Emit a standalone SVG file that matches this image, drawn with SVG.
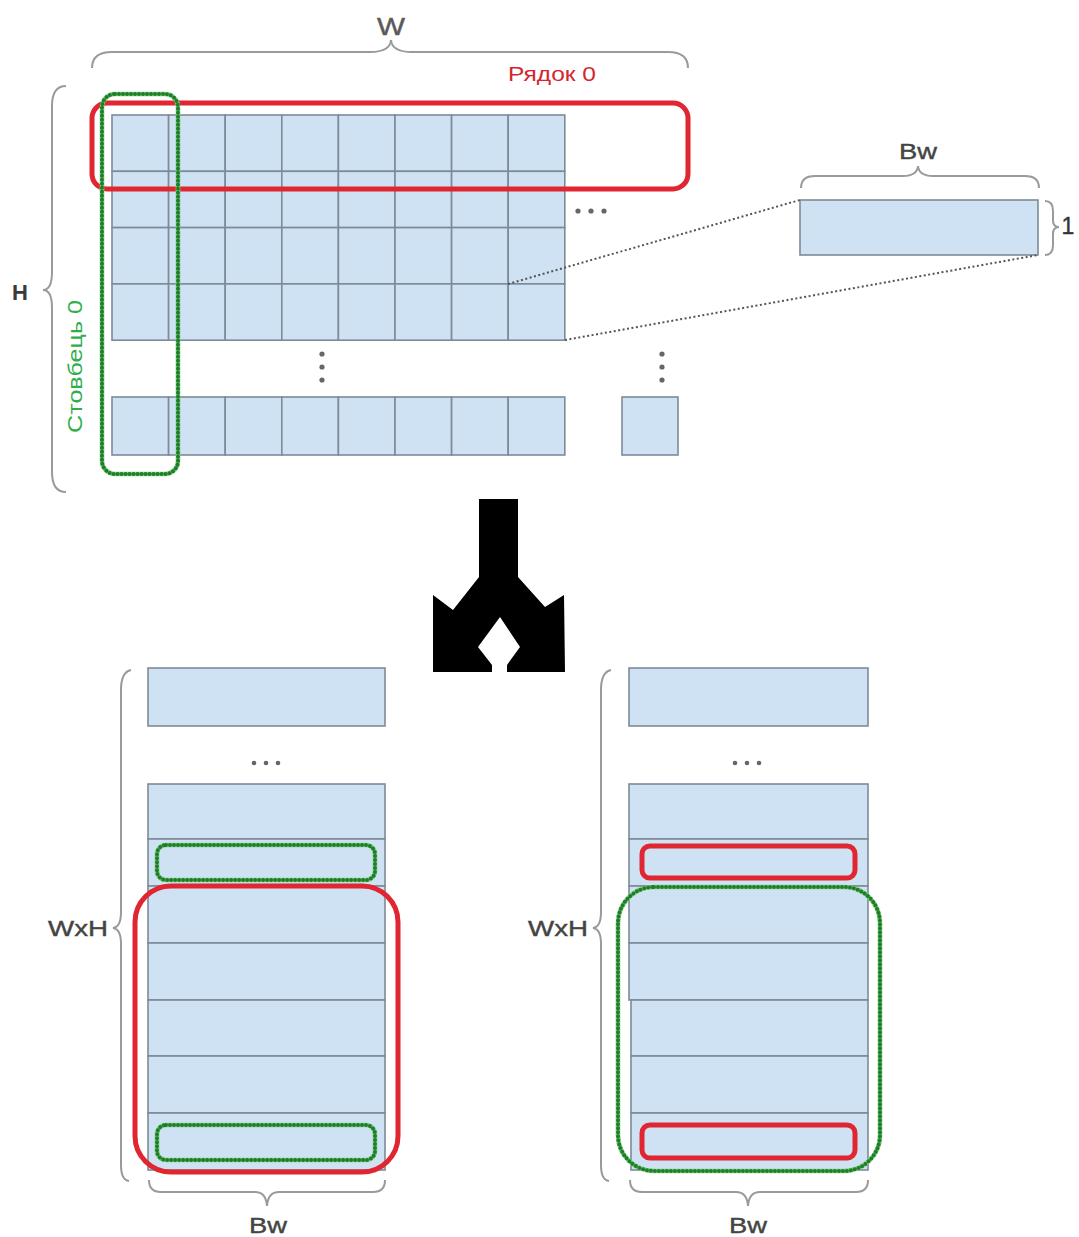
<svg xmlns="http://www.w3.org/2000/svg" width="1079" height="1237" viewBox="0 0 1079 1237">
  <style>
    .cell { fill: #cfe2f3; stroke: #7d8b98; stroke-width: 1.6; }
    .brace { fill: none; stroke: #9a9a9a; stroke-width: 2; }
    .red { fill: none; stroke: #e02631; stroke-width: 5; }
    .gline { fill: none; stroke: #7ccf7c; stroke-width: 4.6; }
    .gdot { fill: none; stroke: #1f7d2b; stroke-width: 4; stroke-dasharray: 0 4; stroke-linecap: round; }
    .dotted { fill: none; stroke: #555; stroke-width: 2; stroke-dasharray: 2 2.5; }
    .ell { fill: #666; }
    .lbl { font-family: "Liberation Sans", Arial, sans-serif; fill: #444; stroke: #444; stroke-width: 0.4; }
  </style>

  <!-- matrix W x H -->
  <g id="matrix">
    <g id="grid-rows">
      <rect class="cell" x="112" y="115" width="56.6" height="56.3"/>
      <rect class="cell" x="168.6" y="115" width="56.6" height="56.3"/>
      <rect class="cell" x="225.2" y="115" width="56.6" height="56.3"/>
      <rect class="cell" x="281.8" y="115" width="56.6" height="56.3"/>
      <rect class="cell" x="338.4" y="115" width="56.6" height="56.3"/>
      <rect class="cell" x="395" y="115" width="56.6" height="56.3"/>
      <rect class="cell" x="451.6" y="115" width="56.6" height="56.3"/>
      <rect class="cell" x="508.2" y="115" width="56.6" height="56.3"/>

      <rect class="cell" x="112" y="171.3" width="56.6" height="56.3"/>
      <rect class="cell" x="168.6" y="171.3" width="56.6" height="56.3"/>
      <rect class="cell" x="225.2" y="171.3" width="56.6" height="56.3"/>
      <rect class="cell" x="281.8" y="171.3" width="56.6" height="56.3"/>
      <rect class="cell" x="338.4" y="171.3" width="56.6" height="56.3"/>
      <rect class="cell" x="395" y="171.3" width="56.6" height="56.3"/>
      <rect class="cell" x="451.6" y="171.3" width="56.6" height="56.3"/>
      <rect class="cell" x="508.2" y="171.3" width="56.6" height="56.3"/>

      <rect class="cell" x="112" y="227.6" width="56.6" height="56.3"/>
      <rect class="cell" x="168.6" y="227.6" width="56.6" height="56.3"/>
      <rect class="cell" x="225.2" y="227.6" width="56.6" height="56.3"/>
      <rect class="cell" x="281.8" y="227.6" width="56.6" height="56.3"/>
      <rect class="cell" x="338.4" y="227.6" width="56.6" height="56.3"/>
      <rect class="cell" x="395" y="227.6" width="56.6" height="56.3"/>
      <rect class="cell" x="451.6" y="227.6" width="56.6" height="56.3"/>
      <rect class="cell" x="508.2" y="227.6" width="56.6" height="56.3"/>

      <rect class="cell" x="112" y="283.9" width="56.6" height="56.3"/>
      <rect class="cell" x="168.6" y="283.9" width="56.6" height="56.3"/>
      <rect class="cell" x="225.2" y="283.9" width="56.6" height="56.3"/>
      <rect class="cell" x="281.8" y="283.9" width="56.6" height="56.3"/>
      <rect class="cell" x="338.4" y="283.9" width="56.6" height="56.3"/>
      <rect class="cell" x="395" y="283.9" width="56.6" height="56.3"/>
      <rect class="cell" x="451.6" y="283.9" width="56.6" height="56.3"/>
      <rect class="cell" x="508.2" y="283.9" width="56.6" height="56.3"/>

      <rect class="cell" x="112" y="397" width="56.6" height="58"/>
      <rect class="cell" x="168.6" y="397" width="56.6" height="58"/>
      <rect class="cell" x="225.2" y="397" width="56.6" height="58"/>
      <rect class="cell" x="281.8" y="397" width="56.6" height="58"/>
      <rect class="cell" x="338.4" y="397" width="56.6" height="58"/>
      <rect class="cell" x="395" y="397" width="56.6" height="58"/>
      <rect class="cell" x="451.6" y="397" width="56.6" height="58"/>
      <rect class="cell" x="508.2" y="397" width="56.6" height="58"/>

      <rect class="cell" x="622" y="397" width="56" height="58"/>
    </g>
    <!-- ellipses -->
    <circle class="ell" cx="578" cy="211" r="2.6"/>
    <circle class="ell" cx="591" cy="211" r="2.6"/>
    <circle class="ell" cx="604" cy="211" r="2.6"/>
    <circle class="ell" cx="322" cy="354" r="2.6"/>
    <circle class="ell" cx="322" cy="367" r="2.6"/>
    <circle class="ell" cx="322" cy="380" r="2.6"/>
    <circle class="ell" cx="662" cy="354" r="2.6"/>
    <circle class="ell" cx="662" cy="367" r="2.6"/>
    <circle class="ell" cx="662" cy="380" r="2.6"/>
  </g>

  <!-- highlighted row 0 and column 0 -->
  <g id="row0">
    <rect class="red" x="92" y="103" width="596" height="86" rx="15"/>
    <text class="lbl" x="508" y="81" font-size="20" textLength="88" lengthAdjust="spacingAndGlyphs" style="fill:#d42530;stroke:none">Рядок 0</text>
  </g>
  <g id="col0">
    <rect class="gline" x="102" y="94" width="76" height="380" rx="13"/>
    <rect class="gdot" x="102" y="94" width="76" height="380" rx="13"/>
    <text class="lbl" transform="translate(82 433) rotate(-90)" font-size="20" textLength="133" lengthAdjust="spacingAndGlyphs" style="fill:#2fae4c;stroke:none">Стовбець 0</text>
  </g>

  <!-- dimension braces of the matrix -->
  <g id="dim-w">
    <path class="brace" d="M92,68 Q92,52 112,52 L370,52 Q390,52 391,40 Q392,52 412,52 L668,52 Q688,52 688,68"/>
    <text class="lbl" x="377" y="35" font-size="24" textLength="28" lengthAdjust="spacingAndGlyphs" style="fill:#5a5a5a;stroke:#5a5a5a">W</text>
  </g>
  <g id="dim-h">
    <path class="brace" d="M66,86 Q52,86 52,106 L52,272 Q52,290 43,290 Q52,290 52,308 L52,472 Q52,492 66,492"/>
    <text class="lbl" x="20" y="300" font-size="22" font-weight="bold" text-anchor="middle" style="fill:#3a3a3a;stroke:none">H</text>
  </g>

  <!-- single block Bw x 1 -->
  <g id="block">
    <rect class="cell" x="800" y="200" width="238" height="55"/>
    <path class="brace" d="M801,188 Q801,176 815,176 L903,176 Q917,176 918,166 Q919,176 933,176 L1025,176 Q1039,176 1039,188"/>
    <text class="lbl" x="899" y="159" font-size="22" textLength="38" lengthAdjust="spacingAndGlyphs">Bw</text>
    <path class="brace" d="M1045,201 Q1053,201 1053,211 L1053,220 Q1053,227 1059,227 Q1053,227 1053,234 L1053,245 Q1053,255 1045,255"/>
    <text class="lbl" x="1068" y="234" font-size="23" text-anchor="middle" style="fill:#333;stroke:#333">1</text>
  </g>

  <g id="connectors">
    <path class="dotted" d="M508,284 L800,200"/>
    <path class="dotted" d="M565,340 L1038,255"/>
  </g>

  <!-- split arrow -->
  <g id="split-arrow">
    <path fill="#000" d="M479,499 L518,499 L518,577 L545,607 L564,595 L565,672 L507,672 L507,665 L520,647 L500,617 L478,647 L492,665 L492,672 L433,672 L433,595 L453,610 L479,577 Z"/>
  </g>

  <!-- layout by rows (left) -->
  <g id="stack-rows">
    <rect class="cell" x="148" y="668" width="237" height="58"/>
    <circle class="ell" cx="254" cy="763" r="2.3"/>
    <circle class="ell" cx="266" cy="763" r="2.3"/>
    <circle class="ell" cx="278" cy="763" r="2.3"/>
    <rect class="cell" x="148" y="784" width="237" height="55"/>
    <rect class="cell" x="148" y="839" width="237" height="47"/>
    <rect class="cell" x="148" y="886" width="237" height="57"/>
    <rect class="cell" x="148" y="943" width="237" height="57"/>
    <rect class="cell" x="148" y="1000" width="237" height="56"/>
    <rect class="cell" x="148" y="1056" width="237" height="57"/>
    <rect class="cell" x="148" y="1113" width="237" height="57"/>

    <rect class="gline" x="157" y="845" width="218" height="35" rx="9"/>
    <rect class="gdot" x="157" y="845" width="218" height="35" rx="9"/>
    <rect class="gline" x="157" y="1125" width="218" height="35" rx="9"/>
    <rect class="gdot" x="157" y="1125" width="218" height="35" rx="9"/>
    <rect class="red" x="135" y="886" width="263" height="286" rx="36"/>

    <path class="brace" d="M131,670 Q121,672 121,690 L121,912 Q121,927 113,928 Q121,929 121,944 L121,1165 Q121,1180 129,1181"/>
    <text class="lbl" x="48" y="936" font-size="22" textLength="60" lengthAdjust="spacingAndGlyphs">WxH</text>
    <path class="brace" d="M149,1180 Q149,1192 161,1192 L255,1192 Q266,1192 267,1206 Q268,1192 279,1192 L373,1192 Q385,1192 385,1180"/>
    <text class="lbl" x="249" y="1233" font-size="22" textLength="38" lengthAdjust="spacingAndGlyphs">Bw</text>
  </g>

  <!-- layout by columns (right) -->
  <g id="stack-cols">
    <rect class="cell" x="629" y="668" width="239" height="58"/>
    <circle class="ell" cx="735" cy="763" r="2.3"/>
    <circle class="ell" cx="747" cy="763" r="2.3"/>
    <circle class="ell" cx="759" cy="763" r="2.3"/>
    <rect class="cell" x="629" y="784" width="239" height="55"/>
    <rect class="cell" x="629" y="839" width="239" height="47"/>
    <rect class="cell" x="629" y="886" width="239" height="57"/>
    <rect class="cell" x="629" y="943" width="239" height="57"/>
    <rect class="cell" x="631" y="1000" width="237" height="56"/>
    <rect class="cell" x="631" y="1056" width="237" height="57"/>
    <rect class="cell" x="631" y="1113" width="237" height="57"/>

    <rect class="red" x="642" y="846" width="213" height="32" rx="8"/>
    <rect class="red" x="642" y="1125" width="213" height="33" rx="8"/>
    <rect class="gline" x="618" y="887" width="262" height="284" rx="36"/>
    <rect class="gdot" x="618" y="887" width="262" height="284" rx="36"/>

    <path class="brace" d="M611,670 Q601,672 601,690 L601,912 Q601,927 593,928 Q601,929 601,944 L601,1165 Q601,1180 609,1181"/>
    <text class="lbl" x="528" y="936" font-size="22" textLength="60" lengthAdjust="spacingAndGlyphs">WxH</text>
    <path class="brace" d="M630,1180 Q630,1192 642,1192 L736,1192 Q747,1192 748,1206 Q749,1192 760,1192 L856,1192 Q868,1192 868,1180"/>
    <text class="lbl" x="729" y="1233" font-size="22" textLength="38" lengthAdjust="spacingAndGlyphs">Bw</text>
  </g>
</svg>
